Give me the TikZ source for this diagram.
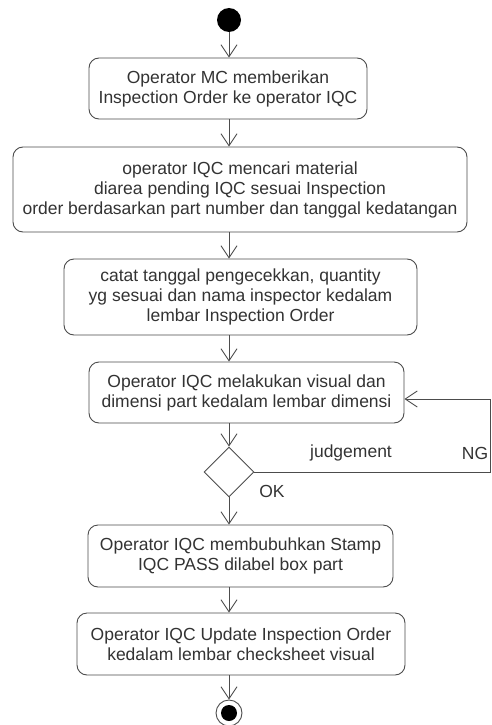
\documentclass[tikz,border=0pt]{standalone}
\usepackage{fontspec}
\setmainfont{Liberation Sans}
\tikzset{flow/.style = {draw = black!70, line width = 0.9pt, -{Straight Barb[length = 12pt, width = 16pt, line width = 0.9pt]}}}
\tikzset{act/.style = {draw = black!70, line width = 0.9pt, rounded corners = 10pt, fill = white, align = center, inner sep = 0, font = \fontsize{17.5}{20}\selectfont, text = black!80}}
\tikzset{circ/.style = {fill, circle, inner sep = 0, minimum size = 24}}
\tikzset{lbl/.style = {font = \fontsize{17.5}{20}\selectfont, text = black!80, inner sep = 0}}
\usetikzlibrary{arrows.meta,
                 shapes.geometric}

\begin{document}
\begin{tikzpicture}[x = 1pt, y = 1pt]
    \useasboundingbox (0, 0) rectangle (492, -725);
    \node [circ] (start) at (229, -20) {};
    \node [act, minimum width = 278, minimum height = 61] (order) at (228, -88.5) {Operator MC memberikan\\Inspection Order ke operator IQC};
    \node [act, minimum width = 454, minimum height = 85] (search) at (240, -189.5) {operator IQC mencari material\\diarea pending IQC sesuai Inspection\\order berdasarkan part number dan tanggal kedatangan};
    \node [act, minimum width = 353, minimum height = 76] (record) at (240.5, -297) {catat tanggal pengecekkan, quantity\\yg sesuai dan nama inspector kedalam\\lembar Inspection Order};
    \node [act, minimum width = 315, minimum height = 61] (check) at (246.5, -392.5) {Operator IQC melakukan visual dan\\dimensi part kedalam lembar dimensi};
    \node [diamond, draw = black!70, line width = 0.9pt, inner sep = 0, minimum width = 50, minimum height = 50] (judge) at (229, -472) {};
    \node [act, minimum width = 305, minimum height = 62] (stamp) at (240.5, -556) {Operator IQC membubuhkan Stamp\\IQC PASS dilabel box part};
    \node [act, minimum width = 328, minimum height = 62] (update) at (241, -644) {Operator IQC Update Inspection Order\\kedalam lembar checksheet visual};
    \node [draw = black!70, line width = 0.9pt, circle, inner sep = 0, minimum size = 26] (finish) at (229, -713) {};
    \node [circ, minimum size = 16] (finishdot) at (finish) {};
    % labels
    \node [lbl] (judgetxt) at (351, -453) {judgement};
    \node [lbl] (ngtxt) at (475, -453) {NG};
    \node [lbl] (oktxt) at (272, -491) {OK};
    % flow
    \draw [flow] (start) -- (order.north -| start);
    \draw [flow] (order.south -| start) -- (search.north -| start);
    \draw [flow] (search.south -| start) -- (record.north -| start);
    \draw [flow] (record.south -| start) -- (check.north -| start);
    \draw [flow] (check.south -| start) -- (judge.north);
    \draw [flow] (judge.south) -- (stamp.north -| start);
    \draw [flow] (stamp.south -| start) -- (update.north -| start);
    \draw [flow] (update.south -| start) -- (finish);
    \coordinate (ngturn) at (490, -472);
    \draw [flow] (judge.east) -- (ngturn) |- ([yshift = -6.5pt]check.east);
\end{tikzpicture}
\end{document}
